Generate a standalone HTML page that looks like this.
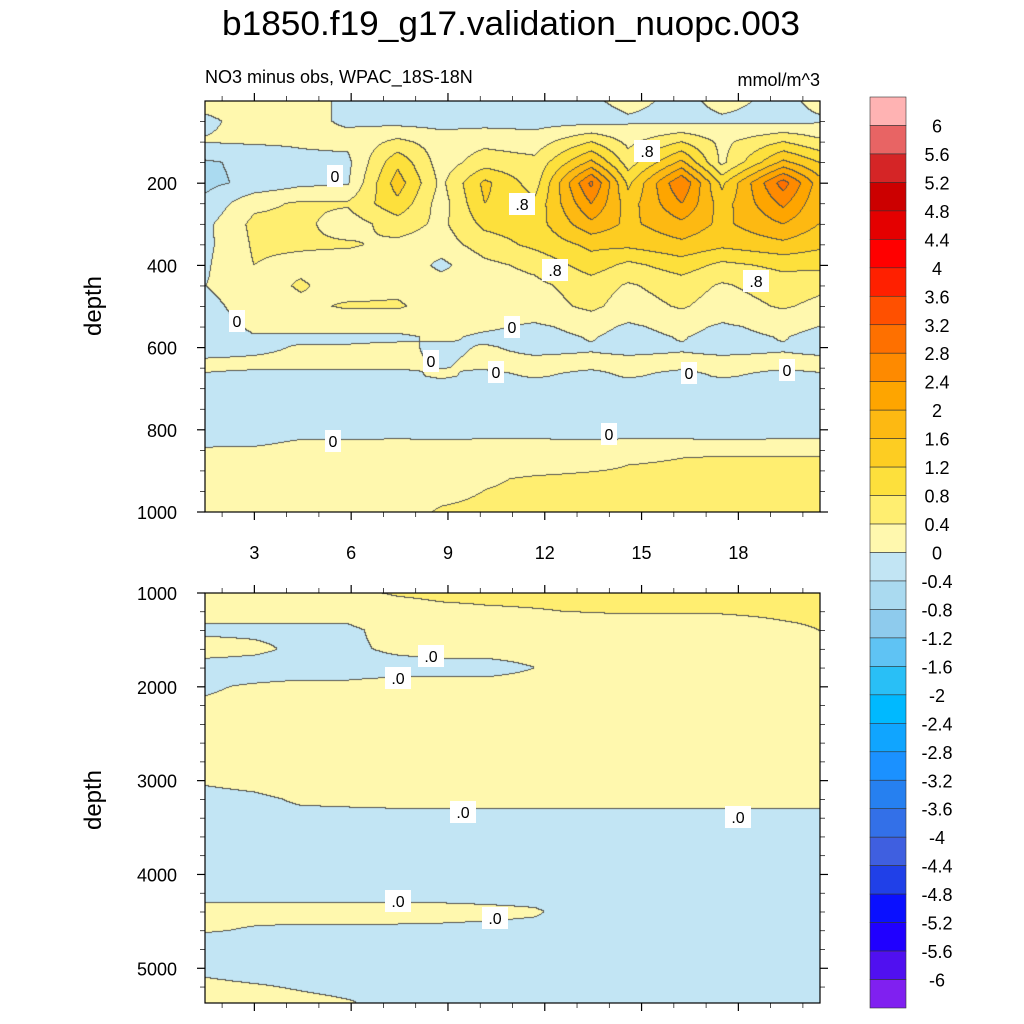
<!DOCTYPE html>
<html><head><meta charset="utf-8">
<style>
html,body{margin:0;padding:0;background:#fff;}
#wrap{position:relative;width:1024px;height:1024px;overflow:hidden;font-family:"Liberation Sans",Arial,sans-serif;}
canvas{position:absolute;}
svg{position:absolute;left:0;top:0;}
</style></head>
<body>
<div id="wrap">
<canvas id="c1" width="615" height="411" style="left:205px;top:101px"></canvas>
<canvas id="c2" width="615" height="410" style="left:205px;top:593px"></canvas>
<svg id="s" width="1024" height="1024">
<text x="511" y="35" font-size="34" text-anchor="middle" textLength="578" lengthAdjust="spacingAndGlyphs">b1850.f19_g17.validation_nuopc.003</text>
<text x="205" y="83" font-size="18">NO3 minus obs, WPAC_18S-18N</text>
<text x="820" y="86" font-size="18" text-anchor="end">mmol/m^3</text>
<text transform="translate(101,306) rotate(-90)" font-size="24" text-anchor="middle">depth</text>
<text transform="translate(101,800) rotate(-90)" font-size="24" text-anchor="middle">depth</text>
<g id="axes"></g>
<g id="labels"></g>
<g id="cbar"></g>
</svg>
</div>
<script>
// ---------- data ----------
const xCols = [1.5,3,4.45,5.9,7.45,8.8,10.15,11.7,13.45,14.6,16.25,17.5,19.4,20.5];
const topDepths = [0,50,100,150,200,250,300,350,400,450,500,550,575,600,640,670,700,800,830,870,920,1000];
const topValues = [
 [0.1,0.1,0.1,-0.05,-0.2,-0.2,-0.2,-0.2,-0.05,0.1,-0.1,0.1,-0.1,0.1],
 [-0.05,0.1,0.1,-0.05,-0.15,-0.15,-0.15,-0.15,-0.15,-0.05,-0.1,-0.05,-0.1,-0.05],
 [0.02,0.05,0.05,0.1,0.5,0.2,0.3,0.2,0.8,0.3,0.8,0.3,0.8,0.5],
 [-0.45,-0.3,-0.1,-0.1,1.1,0.2,0.6,0.5,1.7,0.6,1.7,0.3,1.7,1.2],
 [-0.5,-0.3,-0.1,-0.05,1.4,0.3,1.3,0.6,2.9,1.1,2.8,1.1,3.0,1.8],
 [-0.3,0.3,0.45,0.45,1.1,0.2,1.2,0.9,2.4,1.4,2.4,1.4,2.5,1.7],
 [-0.1,0.5,0.5,0.2,0.6,0.3,0.9,1.0,1.9,1.5,1.9,1.5,2.0,1.6],
 [-0.1,0.45,0.45,0.45,0.3,0.2,0.6,0.9,1.3,1.3,1.5,1.3,1.5,1.3],
 [-0.05,0.4,0.3,0.2,0.3,-0.1,0.3,0.5,1.0,0.7,1.0,0.7,0.9,0.9],
 [0.0,0.2,0.45,0.2,0.3,0.2,0.2,0.3,0.6,0.35,0.6,0.35,0.6,0.5],
 [-0.1,0.15,0.3,0.45,0.45,0.2,0.2,0.2,0.5,0.2,0.45,0.2,0.45,0.3],
 [-0.15,0.05,0.1,0.1,0.1,0.1,0.05,-0.05,0.1,-0.05,0.1,-0.05,0.1,0.0],
 [-0.15,-0.02,-0.05,-0.05,-0.05,0.05,-0.05,-0.1,0.02,-0.1,0.02,-0.1,0.02,-0.1],
 [-0.1,-0.05,0.02,0.02,0.05,-0.05,0.02,-0.05,-0.02,-0.05,-0.02,-0.05,-0.02,-0.05],
 [0.05,0.05,0.05,0.05,0.05,-0.02,0.05,0.05,0.05,0.05,0.05,0.05,0.05,0.05],
 [-0.02,-0.05,-0.05,-0.05,-0.05,0.03,-0.05,0.02,-0.05,0.02,-0.05,0.02,-0.05,-0.02],
 [-0.1,-0.1,-0.1,-0.1,-0.1,-0.1,-0.1,-0.1,-0.1,-0.1,-0.1,-0.1,-0.1,-0.1],
 [-0.1,-0.1,-0.1,-0.1,-0.1,-0.1,-0.1,-0.1,-0.1,-0.1,-0.1,-0.1,-0.1,-0.1],
 [-0.05,-0.04,0.02,0.02,0.03,0.02,0.03,0.03,0.02,0.03,0.03,0.02,0.03,0.03],
 [0.1,0.1,0.1,0.1,0.1,0.1,0.1,0.1,0.2,0.35,0.4,0.45,0.45,0.45],
 [0.1,0.1,0.1,0.1,0.1,0.15,0.35,0.45,0.5,0.5,0.5,0.5,0.5,0.5],
 [0.1,0.1,0.1,0.1,0.2,0.45,0.5,0.5,0.5,0.5,0.5,0.5,0.5,0.5]
];
const botDepths = [1000,1200,1400,1600,1800,2000,2600,3000,3200,3400,3600,4000,4250,4400,4600,4700,5000,5200,5362];
const botValues = [
 [0.1,0.1,0.1,0.3,0.45,0.5,0.5,0.5,0.5,0.5,0.5,0.5,0.6,0.8],
 [0.1,0.1,0.1,0.1,0.2,0.3,0.35,0.38,0.42,0.45,0.45,0.45,0.5,0.5],
 [-0.05,-0.05,-0.05,-0.05,0.1,0.1,0.1,0.1,0.1,0.1,0.1,0.1,0.3,0.4],
 [0.1,0.05,-0.05,-0.05,0.05,0.1,0.1,0.1,0.1,0.1,0.1,0.1,0.1,0.1],
 [-0.1,-0.1,-0.1,-0.1,-0.1,-0.1,-0.1,0.0,0.1,0.1,0.1,0.1,0.1,0.1],
 [-0.02,0.02,0.05,0.05,0.1,0.1,0.1,0.1,0.1,0.1,0.1,0.1,0.1,0.1],
 [0.1,0.1,0.1,0.1,0.1,0.1,0.1,0.1,0.1,0.1,0.1,0.1,0.1,0.1],
 [0.02,0.05,0.1,0.1,0.1,0.1,0.1,0.1,0.1,0.1,0.1,0.1,0.1,0.1],
 [-0.05,-0.03,0.02,0.03,0.04,0.04,0.04,0.04,0.04,0.04,0.04,0.04,0.04,0.04],
 [-0.04,-0.04,-0.04,-0.04,-0.04,-0.04,-0.04,-0.04,-0.04,-0.04,-0.04,-0.04,-0.04,-0.04],
 [-0.1,-0.1,-0.1,-0.1,-0.1,-0.1,-0.1,-0.1,-0.1,-0.1,-0.1,-0.1,-0.1,-0.1],
 [-0.1,-0.1,-0.1,-0.1,-0.1,-0.1,-0.1,-0.1,-0.1,-0.1,-0.1,-0.1,-0.1,-0.1],
 [-0.05,-0.05,-0.05,-0.05,-0.05,-0.05,-0.05,-0.05,-0.05,-0.05,-0.05,-0.05,-0.05,-0.05],
 [0.1,0.1,0.1,0.1,0.1,0.08,0.05,0.02,-0.1,-0.1,-0.1,-0.1,-0.1,-0.1],
 [0.03,-0.03,-0.05,-0.05,-0.05,-0.05,-0.05,-0.05,-0.05,-0.05,-0.05,-0.05,-0.05,-0.05],
 [-0.1,-0.1,-0.1,-0.1,-0.1,-0.1,-0.1,-0.1,-0.1,-0.1,-0.1,-0.1,-0.1,-0.1],
 [-0.05,-0.1,-0.1,-0.1,-0.1,-0.1,-0.1,-0.1,-0.1,-0.1,-0.1,-0.1,-0.1,-0.1],
 [0.05,0.02,-0.02,-0.05,-0.1,-0.1,-0.1,-0.1,-0.1,-0.1,-0.1,-0.1,-0.1,-0.1],
 [0.1,0.1,0.05,0.01,-0.05,-0.1,-0.1,-0.1,-0.1,-0.1,-0.1,-0.1,-0.1,-0.1]
];
const levelLabels = ["6","5.6","5.2","4.8","4.4","4","3.6","3.2","2.8","2.4","2","1.6","1.2","0.8","0.4","0","-0.4","-0.8","-1.2","-1.6","-2","-2.4","-2.8","-3.2","-3.6","-4","-4.4","-4.8","-5.2","-5.6","-6"];
const levelColors = ["#ffb3b3","#e86464","#d52526","#cc0000","#e40000","#ff0000","#ff2000","#ff5000","#fe7000","#fe8a00","#fea500","#fdb912","#fdcd22","#fde03c","#ffee70","#fff8ae",
 "#c2e5f4","#aadaf0","#8ecbed","#5fc3f4","#29bff6","#00b9ff","#10a5ff","#1b91ff","#2680f0","#3370e8","#3f5fe0","#2040e8","#0a10ff","#2000ff","#5010f0","#8020f0"];
const xTicks = [3,6,9,12,15,18];
const topYTicks = [200,400,600,800,1000];
const botYTicks = [1000,2000,3000,4000,5000];

// ---------- axes functions ----------
const X0=205,X1=820,XMIN=1.47,XMAX=20.53;
function xPx(u){return X0+(u-XMIN)/(XMAX-XMIN)*(X1-X0);}
function xInv(p){return XMIN+(p-X0)/(X1-X0)*(XMAX-XMIN);}
const T0=101,T1=512,TD0=0,TD1=1000;
function tY(d){return T0+(d-TD0)/(TD1-TD0)*(T1-T0);}
function tInv(p){return TD0+(p-T0)/(T1-T0)*(TD1-TD0);}
const B0=593,B1=1003,BD0=1000,BD1=5370;
function bY(d){return B0+(d-BD0)/(BD1-BD0)*(B1-B0);}
function bInv(p){return BD0+(p-B0)/(B1-B0)*(BD1-BD0);}

function seg(arr,v){
  if(v<=arr[0]) return [0,0];
  for(let i=0;i<arr.length-1;i++){ if(v<=arr[i+1]) return [i,(v-arr[i])/(arr[i+1]-arr[i])]; }
  return [arr.length-2,1];
}
function interp(depths,vals,u,d){
  const [i,fx]=seg(xCols,u), [j,fy]=seg(depths,d);
  const a=vals[j][i],b=vals[j][i+1],c=vals[j+1][i],e=vals[j+1][i+1];
  return (a*(1-fx)+b*fx)*(1-fy)+(c*(1-fx)+e*fx)*fy;
}
function levelIndex(v){
  let k;
  if(v>=0){k=Math.floor(v/0.4); if(k>15)k=15; return 15-k;}
  k=Math.floor(-v/0.4); if(k>15)k=15; return 16+k;
}
function hexRgb(h){return [parseInt(h.slice(1,3),16),parseInt(h.slice(3,5),16),parseInt(h.slice(5,7),16)];}
const rgbs=levelColors.map(hexRgb);

function drawPanel(id,left,top,depths,vals,inv){
  const cv=document.getElementById(id),ctx=cv.getContext('2d');
  const W=cv.width,H=cv.height,img=ctx.createImageData(W,H);
  const L=new Int8Array(W*H);
  for(let y=0;y<H;y++){const d=inv(top+y+0.5);
    for(let x=0;x<W;x++){L[y*W+x]=levelIndex(interp(depths,vals,xInv(left+x+0.5),d));}}
  for(let y=0;y<H;y++)for(let x=0;x<W;x++){
    const k=L[y*W+x];let c=rgbs[k];
    const edge=(x<W-1&&L[y*W+x+1]!==k)||(y<H-1&&L[(y+1)*W+x]!==k);
    const o=(y*W+x)*4;
    if(edge){img.data[o]=85;img.data[o+1]=85;img.data[o+2]=80;}
    else{img.data[o]=c[0];img.data[o+1]=c[1];img.data[o+2]=c[2];}
    img.data[o+3]=255;}
  ctx.putImageData(img,0,0);
}
drawPanel('c1',205,101,topDepths,topValues,tInv);
drawPanel('c2',205,593,botDepths,botValues,bInv);

// ---------- axes ----------
const NS='http://www.w3.org/2000/svg';
const axes=document.getElementById('axes');
function line(x1,y1,x2,y2,w,name){const l=document.createElementNS(NS,'line');
 l.setAttribute('x1',x1);l.setAttribute('y1',y1);l.setAttribute('x2',x2);l.setAttribute('y2',y2);
 l.setAttribute('stroke','#000');l.setAttribute('stroke-width',w);
 
 
 axes.appendChild(l);return l;}
function text(x,y,s,anchor,size,name,parent){const t=document.createElementNS(NS,'text');
 t.setAttribute('x',x);t.setAttribute('y',y);t.setAttribute('font-size',size);t.setAttribute('text-anchor',anchor);
 t.textContent=s;
 
 
 (parent||axes).appendChild(t);return t;}
function frame(yTop,yBot,name){const r=document.createElementNS(NS,'rect');
 r.setAttribute('x',X0);r.setAttribute('y',yTop);r.setAttribute('width',X1-X0);r.setAttribute('height',yBot-yTop);
 r.setAttribute('fill','none');r.setAttribute('stroke','#000');r.setAttribute('stroke-width',1.2);
 
 
 axes.appendChild(r);}
frame(T0,T1,'upper-plot-frame');frame(B0,B1,'lower-plot-frame');
for(let u=2;u<=20;u++){const p=xPx(u),maj=u%3===0,len=maj?8:5,w=maj?1.2:0.7;
  [[T0,-1],[T1,1],[B0,-1],[B1,1]].forEach(([yy,s])=>line(p,yy,p,yy+s*len,w,maj?'x-major-tick':'x-minor-tick'));}
xTicks.forEach(u=>text(xPx(u),559,String(u),'middle',18,'x-tick-label'));
for(let d=50;d<=1000;d+=50){const p=tY(d),maj=d%200===0,len=maj?8:5;
  line(X0,p,X0-len,p,maj?1.2:0.7,'upper-y-tick');line(X1,p,X1+len,p,maj?1.2:0.7,'upper-y-tick-right');}
topYTicks.forEach(d=>text(177,tY(d)+7,String(d),'end',18,'upper-y-tick-label'));
for(let d=1200;d<=5200;d+=200){const p=bY(d),maj=d%1000===0,len=maj?8:5;
  line(X0,p,X0-len,p,maj?1.2:0.7,'lower-y-tick');line(X1,p,X1+len,p,maj?1.2:0.7,'lower-y-tick-right');}
line(X0,B0,X0-8,B0,1.2,'lower-y-tick');
botYTicks.forEach(d=>text(177,bY(d)+7,String(d),'end',18,'lower-y-tick-label'));

// ---------- contour labels ----------
const lab=document.getElementById('labels');
const cl=[[335,176,"0"],[237,321,"0"],[512,327,"0"],[431,361,"0"],[496,372,"0"],[689,373,"0"],[787,370,"0"],[333,441,"0"],[609,434,"0"],
 [522,204,".8"],[647,151,".8"],[555,270,".8"],[756,281,".8"],
 [431,656,".0"],[398,678,".0"],[463,812,".0"],[738,817,".0"],[398,901,".0"],[495,918,".0"]];
cl.forEach(([x,y,s])=>{const r=document.createElementNS(NS,'rect');
  const w=s.length*10+6;r.setAttribute('x',x-w/2);r.setAttribute('y',y-11);r.setAttribute('width',w);r.setAttribute('height',22);r.setAttribute('fill','#fff');
  
  
  lab.appendChild(r);
  text(x,y+6,s,'middle',16,'contour-label',lab);});

// ---------- colorbar ----------
const cb=document.getElementById('cbar');
const CB0=97,CB1=1008,CBX=870,CBW=36,bh=(CB1-CB0)/levelColors.length;
levelColors.forEach((c,i)=>{const r=document.createElementNS(NS,'rect');
  r.setAttribute('x',CBX);r.setAttribute('y',CB0+i*bh);r.setAttribute('width',CBW);r.setAttribute('height',bh);
  r.setAttribute('fill',c);r.setAttribute('stroke','#333');r.setAttribute('stroke-width',0.6);
  
  
  cb.appendChild(r);});
levelLabels.forEach((s,i)=>text(937,CB0+(i+1)*bh+7,s,'middle',18,'colorbar-label',cb));
</script>
</body></html>
